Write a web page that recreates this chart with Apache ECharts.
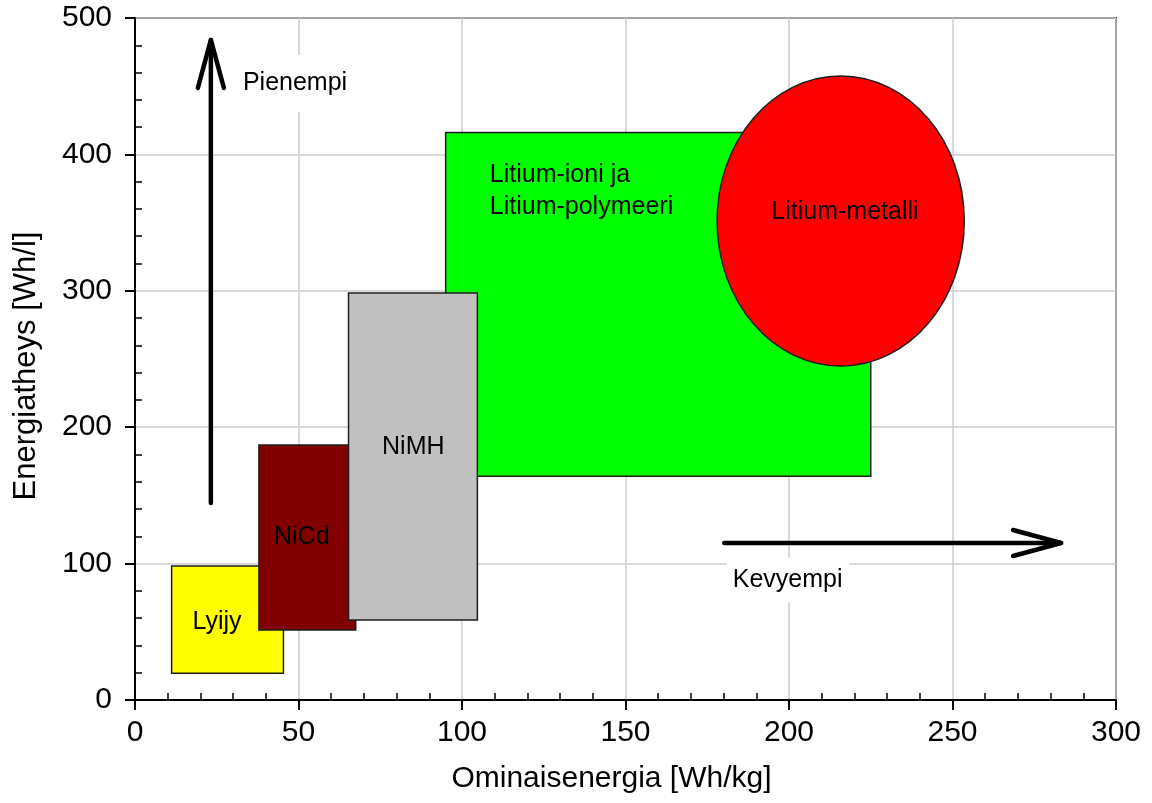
<!DOCTYPE html>
<html>
<head>
<meta charset="utf-8">
<script src="https://cdn.jsdelivr.net/npm/echarts@6/dist/echarts.min.js"></script>
<style>
  html, body { margin: 0; padding: 0; background: #fff; }
  #chart { width: 1152px; height: 803px; }
</style>
</head>
<body>
<div id="chart"></div>
<script>
// akkutyypit: ominaisenergia [Wh/kg] ja energiatiheys [Wh/l] alueina
var boxNames = ['Litium-ioni', 'Lyijy', 'NiCd', 'NiMH'];
var boxWhKg = [[95, 225], [11.2, 45.4], [37.9, 67.5], [65.3, 104.7]];
var boxWhL = [[164, 416], [19.6, 98.2], [51.3, 187], [58.7, 298.4]];
var boxColors = ['#00ff00', '#ffff00', '#800000', '#c0c0c0'];

// litium-metalli: ellipsin keskipiste ja säteet
var metalCenter = [215.8, 351.2];
var metalRadius = [37.8, 106.3];

// nuolet: alku- ja loppupiste
var arrowFrom = [[23.2, 144.4], [180.2, 115.1]];
var arrowTo = [[23.2, 483.9], [283.2, 115.1]];

// tekstit
var centerLabels = [
  ['Lyijy', 25.1, 57.2],
  ['NiCd', 51.0, 119.5],
  ['NiMH', 85.1, 185.5],
  ['Litium-metalli', 217.1, 357.8]
];
var leftLabels = [
  ['Litium-ioni ja\nLitium-polymeeri', 108.5, 373]
];
var noteLabels = [
  ['Pienempi', 33.0, 452],
  ['Kevyempi', 182.8, 88]
];
var notePadding = [[16, 7, 16, 6], [10, 7, 10, 6]];

var xTicks = { min: 0, max: 300, interval: 50 };
var yTicks = { min: 0, max: 500, interval: 100 };

var font = '"Liberation Sans", Arial, Helvetica, sans-serif';

var myChart = echarts.init(document.getElementById('chart'));

var gridPos = { left: 135, right: 36, top: 18, bottom: 103 };

function mainAxis(t, name, extra) {
  var ax = {
    type: 'value',
    gridIndex: 0,
    min: t.min, max: t.max, interval: t.interval,
    name: name,
    nameLocation: 'middle',
    axisLine: { show: true, onZero: false, lineStyle: { color: '#000', width: 2 } },
    axisTick: { show: true, inside: false, length: 10, lineStyle: { color: '#000', width: 2 } },
    splitLine: { show: true, lineStyle: { color: '#cdcdcd', width: 1.5 } }
  };
  return Object.assign(ax, extra);
}

function minorAxis(t) {
  return {
    type: 'value',
    gridIndex: 1,
    min: t.min, max: t.max, interval: t.interval,
    axisLine: { show: false, onZero: false },
    axisTick: { show: false, inside: true },
    minorTick: { show: true, splitNumber: 5, length: 7, lineStyle: { color: '#000', width: 1.5 } },
    axisLabel: { show: false },
    splitLine: { show: false }
  };
}

var option = {
  backgroundColor: '#fff',
  animation: false,
  grid: [
    Object.assign({ show: true, borderColor: '#333', borderWidth: 2 }, gridPos),
    Object.assign({ show: false }, gridPos)
  ],
  xAxis: [
    mainAxis(xTicks, 'Ominaisenergia [Wh/kg]', {
      position: 'bottom', nameGap: 64,
      nameTextStyle: { fontSize: 30, color: '#000', fontFamily: font, padding: [0, 28, 0, 0] },
      axisLabel: { fontSize: 30, color: '#000', fontFamily: font, margin: 18 }
    }),
    Object.assign(minorAxis(xTicks), { position: 'bottom' })
  ],
  yAxis: [
    mainAxis(yTicks, 'Energiatheys [Wh/l]', {
      position: 'left', nameGap: 93,
      nameTextStyle: { fontSize: 31, color: '#000', fontFamily: font, padding: [0, 14, 0, 0] },
      axisLabel: { fontSize: 30, color: '#000', fontFamily: font, margin: 23 }
    }),
    Object.assign(minorAxis(yTicks), { position: 'left' })
  ],
  series: [
    {
      type: 'custom',
      name: 'alueet',
      xAxisIndex: 0, yAxisIndex: 0,
      encode: { x: [0, 1], y: [2, 3] },
      data: boxNames.map(function (n, i) {
        return [boxWhKg[i][0], boxWhKg[i][1], boxWhL[i][0], boxWhL[i][1]];
      }),
      renderItem: function (params, api) {
        var p0 = api.coord([api.value(0), api.value(3)]);
        var p1 = api.coord([api.value(1), api.value(2)]);
        return {
          type: 'rect',
          shape: { x: p0[0], y: p0[1], width: p1[0] - p0[0], height: p1[1] - p0[1] },
          style: { fill: boxColors[params.dataIndex], stroke: '#1e1e1e', lineWidth: 1.5 }
        };
      },
      z: 2
    },
    {
      type: 'custom',
      name: 'Litium-metalli',
      xAxisIndex: 0, yAxisIndex: 0,
      encode: { x: 0, y: 1 },
      data: [[metalCenter[0], metalCenter[1], metalRadius[0], metalRadius[1]]],
      renderItem: function (params, api) {
        var c = api.coord([api.value(0), api.value(1)]);
        var e = api.coord([api.value(0) + api.value(2), api.value(1) + api.value(3)]);
        return {
          type: 'ellipse',
          shape: { cx: c[0], cy: c[1], rx: Math.abs(e[0] - c[0]), ry: Math.abs(c[1] - e[1]) },
          style: { fill: '#ff0000', stroke: '#1e1e1e', lineWidth: 1.5 }
        };
      },
      z: 3
    },
    {
      type: 'custom',
      name: 'nuolet',
      xAxisIndex: 0, yAxisIndex: 0,
      encode: { x: [0, 2], y: [1, 3] },
      data: arrowFrom.map(function (f, i) { return [f[0], f[1], arrowTo[i][0], arrowTo[i][1]]; }),
      renderItem: function (params, api) {
        var a = api.coord([api.value(0), api.value(1)]);
        var b = api.coord([api.value(2), api.value(3)]);
        var dx = b[0] - a[0], dy = b[1] - a[1];
        var len = Math.sqrt(dx * dx + dy * dy);
        var ux = dx / len, uy = dy / len;
        var hl = 48, hw = 13;
        var bx = b[0] - ux * hl, by = b[1] - uy * hl;
        var st = { stroke: '#000', lineWidth: 4.5, lineCap: 'round', lineJoin: 'round', fill: null };
        return {
          type: 'group',
          children: [
            { type: 'line', shape: { x1: a[0], y1: a[1], x2: b[0], y2: b[1] }, style: st },
            {
              type: 'polyline',
              shape: { points: [[bx - uy * hw, by + ux * hw], [b[0], b[1]], [bx + uy * hw, by - ux * hw]] },
              style: st
            }
          ]
        };
      },
      z: 4
    },
    {
      type: 'custom',
      name: 'tekstit',
      xAxisIndex: 0, yAxisIndex: 0,
      encode: { x: 1, y: 2 },
      data: centerLabels.concat(leftLabels, noteLabels),
      renderItem: function (params, api) {
        var i = params.dataIndex;
        var nc = centerLabels.length, nl = leftLabels.length;
        var row = i < nc ? centerLabels[i] : (i < nc + nl ? leftLabels[i - nc] : noteLabels[i - nc - nl]);
        var p = api.coord([row[1], row[2]]);
        var isCenter = i < nc;
        var isNote = i >= nc + nl;
        var style = {
          text: row[0],
          fontSize: 25,
          fontFamily: font,
          fill: '#000',
          align: isCenter ? 'center' : 'left',
          verticalAlign: 'middle',
          lineHeight: 32
        };
        if (isNote) {
          style.backgroundColor = '#fff';
          style.padding = notePadding[i - nc - nl];
          style.lineHeight = 25;
        }
        return { type: 'text', x: isNote ? p[0] - 6 : p[0], y: p[1], style: style };
      },
      z: 5
    }
  ]
};

myChart.setOption(option, true);
</script>
</body>
</html>
